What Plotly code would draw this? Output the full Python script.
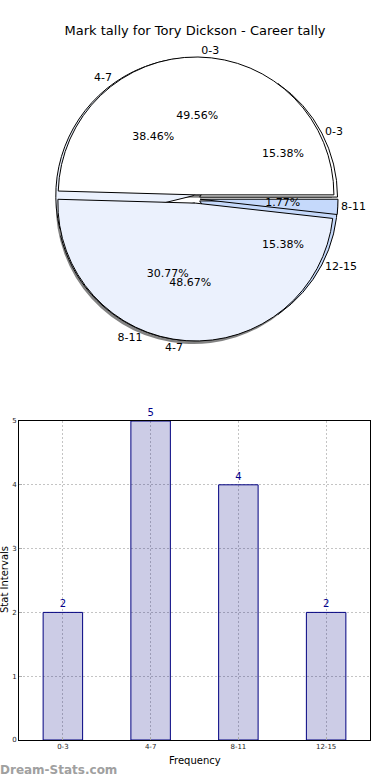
import plotly.graph_objects as go

# ---- data ----
title_text = "Mark tally for Tory Dickson - Career tally"
pie_a_labels = ["0-3", "4-7", "8-11", "12-15"]
pie_a_values = [2, 5, 4, 2]
pie_b_labels = ["0-3", "4-7", "8-11"]
pie_b_values = [56, 55, 2]
bar_categories = ["0-3", "4-7", "8-11", "12-15"]
bar_values = [2, 5, 4, 2]

W, H = 390, 780
FONT = "DejaVu Sans"
PCT = "%{percent:.2%}"

def px_dom_x(a, b):
    return [a / W, b / W]

def px_dom_y(top, bottom):
    return [1 - bottom / H, 1 - top / H]

def start_east(values):
    # plotly counterclockwise: first slice spans clockwise from `rotation`;
    # choose rotation so the first slice begins at 3 o'clock (matplotlib default)
    return 90 - 360.0 * values[0] / sum(values)

# pie geometry (pixels)
cx, cy = 196, 199
main_half = 142
big_half = 163
small_half = 66

main_x = px_dom_x(cx - main_half, cx + main_half)
main_y = px_dom_y(cy - main_half, cy + main_half)
shadow_x = px_dom_x(cx - main_half - 2, cx + main_half - 2)
shadow_y = px_dom_y(cy - main_half + 3, cy + main_half + 3)
big_x = px_dom_x(cx - big_half, cx + big_half)
big_y = px_dom_y(cy - big_half, cy + big_half)
small_x = px_dom_x(cx - small_half, cx + small_half)
small_y = px_dom_y(cy - small_half, cy + small_half)

a_colors = ["#ffffff", "#ebf1fd", "#ebf1fd", "#c5d9fb"]
b_colors = ["#ffffff", "#ebf1fd", "#c5d9fb"]
a_pull = [0.03] * len(pie_a_values)
b_pull = [0.03] * len(pie_b_values)
clear_a = ["rgba(0,0,0,0)"] * len(pie_a_values)
clear_b = ["rgba(0,0,0,0)"] * len(pie_b_values)
rot_a = start_east(pie_a_values)
rot_b = start_east(pie_b_values)
txt_font = dict(family=FONT, size=11, color="black")

common = dict(sort=False, direction="counterclockwise",
              hoverinfo="skip", showlegend=False)

fig = go.Figure()

# shadow
fig.add_trace(go.Pie(labels=pie_b_labels, values=pie_b_values, pull=b_pull, rotation=rot_b,
                     marker=dict(colors=["rgba(90,90,90,0.75)"] * 3, line=dict(width=0)),
                     textinfo="none", domain=dict(x=shadow_x, y=shadow_y), **common))
# pie A (under)
fig.add_trace(go.Pie(labels=pie_a_labels, values=pie_a_values, pull=a_pull, rotation=rot_a,
                     marker=dict(colors=a_colors, line=dict(color="black", width=1)),
                     textinfo="none", domain=dict(x=main_x, y=main_y), **common))
# pie B (over)
fig.add_trace(go.Pie(labels=pie_b_labels, values=pie_b_values, pull=b_pull, rotation=rot_b,
                     marker=dict(colors=b_colors, line=dict(color="black", width=1)),
                     textinfo="none", domain=dict(x=main_x, y=main_y), **common))

# percentage text, pie A (inside, horizontal)
fig.add_trace(go.Pie(labels=pie_a_labels, values=pie_a_values, pull=a_pull, rotation=rot_a,
                     marker=dict(colors=clear_a, line=dict(width=0)),
                     texttemplate=PCT, textposition="inside", insidetextorientation="horizontal",
                     insidetextfont=txt_font,
                     domain=dict(x=main_x, y=main_y), **common))
# percentage text, pie B big slices (inside) and tiny slice (outside of a small pie)
b_big = [PCT if v / sum(pie_b_values) > 0.1 else "" for v in pie_b_values]
b_small = [PCT if v / sum(pie_b_values) <= 0.1 else "" for v in pie_b_values]
fig.add_trace(go.Pie(labels=pie_b_labels, values=pie_b_values, pull=b_pull, rotation=rot_b,
                     marker=dict(colors=clear_b, line=dict(width=0)),
                     texttemplate=b_big, textposition="inside", insidetextorientation="horizontal",
                     insidetextfont=txt_font,
                     domain=dict(x=big_x, y=big_y), **common))
fig.add_trace(go.Pie(labels=pie_b_labels, values=pie_b_values, pull=b_pull, rotation=rot_b,
                     marker=dict(colors=clear_b, line=dict(width=0)),
                     texttemplate=b_small, textposition="outside",
                     outsidetextfont=txt_font,
                     domain=dict(x=small_x, y=small_y), **common))
# category labels (transparent full pies, text outside)
for labs, vals, pull, clear, rot in [(pie_a_labels, pie_a_values, a_pull, clear_a, rot_a),
                                     (pie_b_labels, pie_b_values, b_pull, clear_b, rot_b)]:
    fig.add_trace(go.Pie(labels=labs, values=vals, pull=pull, rotation=rot,
                         marker=dict(colors=clear, line=dict(width=0)),
                         textinfo="label", textposition="outside",
                         outsidetextfont=txt_font,
                         domain=dict(x=main_x, y=main_y), **common))

# bar chart
fig.add_trace(go.Bar(x=bar_categories, y=bar_values, width=0.45,
                     marker=dict(color="rgba(0,0,128,0.2)", line=dict(color="#000080", width=1)),
                     text=[str(v) for v in bar_values], textposition="outside",
                     textfont=dict(family=FONT, size=10, color="#00008b"),
                     cliponaxis=False, hoverinfo="skip", showlegend=False))

grid = dict(showgrid=True, gridcolor="#c4c4c4", griddash="2px,2px", gridwidth=1,
            showline=True, linecolor="black", linewidth=1, mirror=True,
            ticks="inside", ticklen=3, tickcolor="#aaaaaa",
            tickfont=dict(family=FONT, size=7, color="#222222"),
            zeroline=False, automargin=False)

fig.update_layout(
    width=W, height=H,
    margin=dict(l=0, r=0, t=0, b=0),
    paper_bgcolor="white", plot_bgcolor="white",
    font=dict(family=FONT, color="black"),
    title=dict(text=title_text, x=0.5, xanchor="center", y=1 - 30 / H, yanchor="middle",
               font=dict(family=FONT, size=13, color="black")),
    xaxis=dict(domain=px_dom_x(19, 370), type="category", range=[-0.5, 3.5], **grid),
    yaxis=dict(domain=px_dom_y(421, 740), range=[0, 5], dtick=1, **grid),
    annotations=[
        dict(text="Frequency", x=(19 + 370) / 2 / W, y=1 - 760 / H, xref="paper", yref="paper",
             showarrow=False, font=dict(family=FONT, size=10, color="black"),
             xanchor="center", yanchor="middle"),
        dict(text="Stat Intervals", x=4 / W, y=1 - 580 / H, xref="paper", yref="paper",
             showarrow=False, textangle=-90, font=dict(family=FONT, size=10, color="black"),
             xanchor="center", yanchor="middle"),
        dict(text="<b>Dream-Stats.com</b>", x=0, y=1 - 770 / H, xref="paper", yref="paper",
             xshift=-2, showarrow=False, font=dict(family=FONT, size=12, color="#a0a0a0"),
             xanchor="left", yanchor="middle"),
    ],
)

fig.write_html("out.html", config={"displayModeBar": False},
               post_script="document.body.style.margin='0px';")
